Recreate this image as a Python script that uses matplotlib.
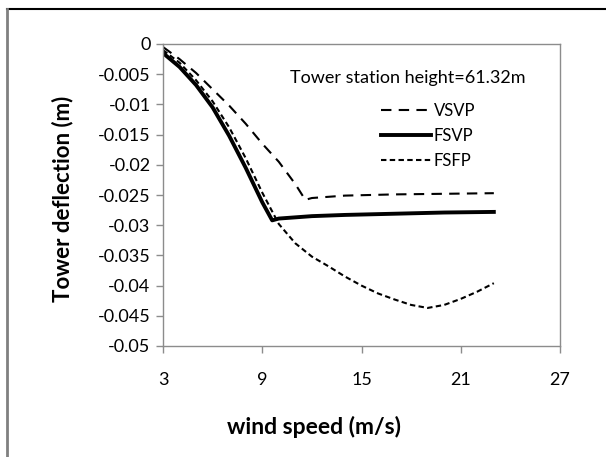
import numpy as np
import matplotlib
matplotlib.use("Agg")
import matplotlib.pyplot as plt
from matplotlib.lines import Line2D

plt.rcParams['font.family'] = ['Lato', 'DejaVu Sans']

# wind speed (m/s) and tower deflection (m)
ws_vsvp = [3, 4, 5, 6, 7, 8, 9, 10, 11, 11.6, 12, 14, 17, 20, 23]
defl_vsvp = [-0.0005, -0.0025, -0.0048, -0.0075, -0.0102, -0.0132, -0.0165, -0.0195,
             -0.0232, -0.0258, -0.0255, -0.0251, -0.0249, -0.0248, -0.0247]

ws_fsvp = [3, 4, 5, 6, 7, 8, 9, 9.6, 10, 11, 12, 14, 17, 20, 23]
defl_fsvp = [-0.0015, -0.0038, -0.0068, -0.0105, -0.0152, -0.0205, -0.0262, -0.0292,
             -0.0289, -0.0287, -0.0285, -0.0283, -0.0281, -0.0279, -0.0278]

ws_fsfp = [3, 4, 5, 6, 7, 8, 9, 10, 11, 12, 13, 14, 15, 16, 17, 18, 19, 20, 21, 22, 23]
defl_fsfp = [-0.0010, -0.0031, -0.0060, -0.0095, -0.0138, -0.0189, -0.0246, -0.0298,
             -0.0330, -0.0352, -0.0368, -0.0385, -0.0400, -0.0413, -0.0423, -0.0432,
             -0.0437, -0.0432, -0.0422, -0.0410, -0.0396]

x_ticks = [3, 9, 15, 21, 27]
y_ticks = [0, -0.005, -0.01, -0.015, -0.02, -0.025, -0.03, -0.035, -0.04, -0.045, -0.05]
y_tick_labels = ['0', '-0.005', '-0.01', '-0.015', '-0.02', '-0.025', '-0.03',
                 '-0.035', '-0.04', '-0.045', '-0.05']

W, H = 606, 457
fig = plt.figure(figsize=(W / 100, H / 100), dpi=100)
ax = fig.add_axes([163 / W, 1 - 346 / H, (560 - 163) / W, (346 - 44) / H])

ax.plot(ws_vsvp, defl_vsvp, color='black', linewidth=1.5, dashes=(5, 3.5), label='VSVP')
ax.plot(ws_fsvp, defl_fsvp, color='black', linewidth=2.8, label='FSVP')
ax.plot(ws_fsfp, defl_fsfp, color='black', linewidth=1.5, dashes=(2.6, 1.6), label='FSFP')

ax.set_xlim(3, 27)
ax.set_ylim(-0.05, 0)
ax.set_xticks(x_ticks)
ax.set_yticks(y_ticks)
ax.set_yticklabels(y_tick_labels)
ax.tick_params(direction='out', length=5, width=1, color='#8c8c8c', labelsize=13, pad=4)
ax.tick_params(axis='x', pad=14)
for s in ax.spines.values():
    s.set_color('#8c8c8c')
    s.set_linewidth(1)

fig.text(314 / W, 1 - 427 / H, 'wind speed (m/s)', ha='center', va='center',
         fontsize=16.5, fontweight='bold')
fig.text(63 / W, 1 - 199 / H, 'Tower deflection (m)', ha='center', va='center',
         rotation=90, fontsize=16, fontweight='bold')
fig.text(290 / W, 1 - 78 / H, 'Tower station height=61.32m', ha='left', va='center',
         fontsize=13)

ax.legend(loc='upper left', bbox_to_anchor=(381 / W, 1 - 103 / H), bbox_transform=fig.transFigure,
          frameon=False, fontsize=12, handlelength=3.0, handletextpad=0.15,
          labelspacing=0.55, borderpad=0, borderaxespad=0)

# outer frame (top and left edges only)
fig.add_artist(Line2D([7 / W, 1], [1 - 9 / H, 1 - 9 / H], transform=fig.transFigure,
                      color='black', linewidth=1.5))
fig.add_artist(Line2D([7 / W, 7 / W], [0, 1 - 9 / H], transform=fig.transFigure,
                      color='#808080', linewidth=2))

plt.savefig('out.png', dpi=100)
